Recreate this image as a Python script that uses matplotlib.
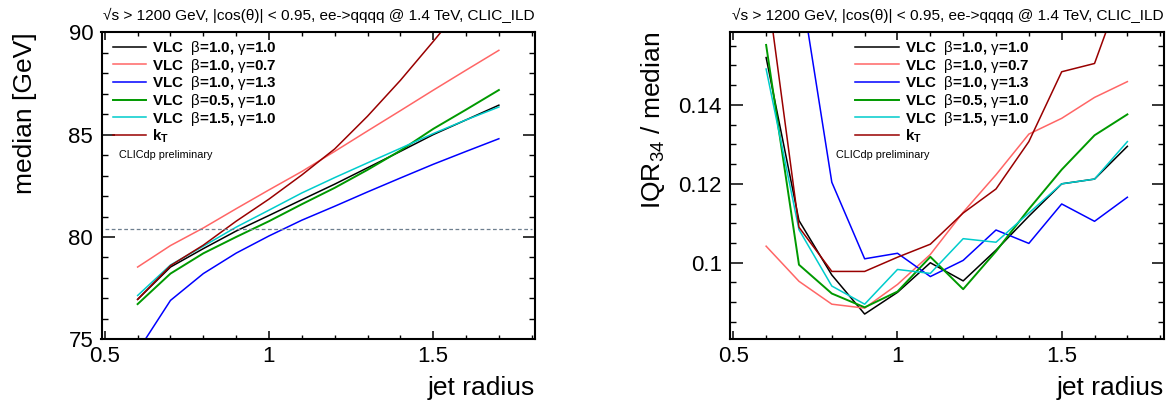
import numpy as np
import matplotlib
matplotlib.use("Agg")
import matplotlib.pyplot as plt
from matplotlib.ticker import MultipleLocator, FormatStrFormatter

plt.rcParams['font.family'] = ['Liberation Sans', 'DejaVu Sans']
plt.rcParams['mathtext.fontset'] = 'custom'
plt.rcParams['mathtext.rm'] = 'Liberation Sans'
plt.rcParams['mathtext.it'] = 'Liberation Sans'
plt.rcParams['mathtext.sf'] = 'Liberation Sans'
plt.rcParams['mathtext.bf'] = 'Liberation Sans:bold'

# jet radius values
radius = [0.6, 0.7, 0.8, 0.9, 1.0, 1.1, 1.2, 1.3, 1.4, 1.5, 1.6, 1.7]

labels = [r"VLC  $\beta$=1.0, $\gamma$=1.0",
          r"VLC  $\beta$=1.0, $\gamma$=0.7",
          r"VLC  $\beta$=1.0, $\gamma$=1.3",
          r"VLC  $\beta$=0.5, $\gamma$=1.0",
          r"VLC  $\beta$=1.5, $\gamma$=1.0",
          r"$\mathbf{k_T}$"]
colors = ['#000000', '#ff6666', '#0000ff', '#009900', '#00cccc', '#990000']
widths = [1.1, 1.1, 1.1, 1.4, 1.1, 1.1]

# median [GeV]
median_b10_g10 = [76.95, 78.53, 79.43, 80.29, 81.05, 81.82, 82.58, 83.38, 84.18, 85.00, 85.72, 86.44]
median_b10_g07 = [78.53, 79.58, 80.44, 81.38, 82.30, 83.20, 84.18, 85.18, 86.17, 87.17, 88.15, 89.12]
median_b10_g13 = [74.42, 76.90, 78.21, 79.21, 80.05, 80.82, 81.50, 82.20, 82.88, 83.55, 84.18, 84.80]
median_b05_g10 = [76.72, 78.21, 79.20, 80.00, 80.77, 81.60, 82.40, 83.28, 84.22, 85.28, 86.22, 87.18]
median_b15_g10 = [77.14, 78.63, 79.55, 80.48, 81.31, 82.15, 82.90, 83.62, 84.33, 85.05, 85.72, 86.35]
median_kt = [76.95, 78.60, 79.60, 80.77, 81.85, 83.03, 84.30, 85.90, 87.65, 89.55, 91.50, 93.60]

# IQR34 / median
iqr_b10_g10 = [0.1520, 0.1107, 0.0969, 0.0870, 0.0925, 0.1000, 0.0954, 0.1032, 0.1118, 0.1200, 0.1212, 0.1295]
iqr_b10_g07 = [0.1042, 0.0953, 0.0895, 0.0885, 0.0945, 0.1021, 0.1128, 0.1223, 0.1326, 0.1366, 0.1419, 0.1459]
iqr_b10_g13 = [0.1900, 0.1732, 0.1204, 0.1010, 0.1024, 0.0965, 0.1006, 0.1083, 0.1049, 0.1149, 0.1105, 0.1166]
iqr_b05_g10 = [0.1552, 0.0995, 0.0922, 0.0887, 0.0927, 0.1015, 0.0933, 0.1029, 0.1136, 0.1236, 0.1323, 0.1376]
iqr_b15_g10 = [0.1491, 0.1084, 0.0941, 0.0895, 0.0983, 0.0973, 0.1061, 0.1052, 0.1126, 0.1200, 0.1212, 0.1307]
iqr_kt = [0.1716, 0.1090, 0.0978, 0.0978, 0.1014, 0.1047, 0.1126, 0.1187, 0.1307, 0.1484, 0.1505, 0.1734]

w_mass = 80.385

medians = [median_b10_g10, median_b10_g07, median_b10_g13, median_b05_g10, median_b15_g10, median_kt]
iqrs = [iqr_b10_g10, iqr_b10_g07, iqr_b10_g13, iqr_b05_g10, iqr_b15_g10, iqr_kt]

title = "√s > 1200 GeV, |cos(θ)| < 0.95, ee->qqqq @ 1.4 TeV, CLIC_ILD"

W, H = 1168, 401
fig = plt.figure(figsize=(W / 100, H / 100), dpi=100)
ax1 = fig.add_axes([101.5 / W, 1 - 339.3 / H, 433.5 / W, 307 / H])
ax2 = fig.add_axes([730 / W, 1 - 339.3 / H, 433.5 / W, 307 / H])


def style(ax):
    ax.set_xlim(0.49, 1.81)
    ax.xaxis.set_major_locator(MultipleLocator(0.5))
    ax.xaxis.set_minor_locator(MultipleLocator(0.1))
    ax.xaxis.set_major_formatter(FormatStrFormatter('%g'))
    ax.yaxis.set_major_formatter(FormatStrFormatter('%g'))
    ax.tick_params(which='both', direction='in', top=True, right=True, labelsize=16)
    ax.tick_params(axis='x', which='major', length=5.5, width=1.1, pad=5)
    ax.tick_params(axis='x', which='minor', length=2.6, width=1.0)
    ax.tick_params(axis='y', which='major', length=9, width=1.1, pad=6)
    ax.tick_params(axis='y', which='minor', length=4.5, width=1.0)
    for s in ax.spines.values():
        s.set_linewidth(1.5)
    ax.text(1.0, 1 + 16.6 / 307, title, transform=ax.transAxes,
            ha='right', va='center', fontsize=11.1)


def legend(ax, x, hl):
    ax.legend(loc='upper left', bbox_to_anchor=(x, 0.978), frameon=False,
              prop={'weight': 'bold', 'size': 10.9}, handlelength=hl,
              handletextpad=0.42, labelspacing=-0.025, borderpad=0, borderaxespad=0)


# left: median
for y, lab, c, lw in zip(medians, labels, colors, widths):
    ax1.plot(radius, y, color=c, lw=lw, label=lab)
ax1.hlines(w_mass, 0.5, 1.8, colors='#6e7f8f', linestyles=(0, (3, 2)), lw=0.9)
ax1.set_ylim(75, 90)
ax1.yaxis.set_major_locator(MultipleLocator(5))
ax1.yaxis.set_minor_locator(MultipleLocator(1))
style(ax1)
legend(ax1, 0.026, 2.2)
ax1.text(0.0404, 0.600, "CLICdp preliminary", transform=ax1.transAxes,
         fontsize=7.8, va='center', ha='left')

# right: IQR34 / median
for y, lab, c, lw in zip(iqrs, labels, colors, widths):
    ax2.plot(radius, y, color=c, lw=lw, label=lab)
ax2.set_ylim(0.0806, 0.1584)
ax2.yaxis.set_major_locator(MultipleLocator(0.02))
ax2.yaxis.set_minor_locator(MultipleLocator(0.005))
style(ax2)
legend(ax2, 0.2884, 2.9)
ax2.text(0.2445, 0.600, "CLICdp preliminary", transform=ax2.transAxes,
         fontsize=7.8, va='center', ha='left')

# axis titles
fig.text(25.5 / W, 1 - 32.3 / H, "median [GeV]", rotation=90, ha='center', va='top', fontsize=19)
fig.text(653 / W, 1 - 32.3 / H, r"IQR$_{34}$ / median", rotation=90, ha='center', va='top', fontsize=19)
fig.text(535 / W, 1 - 387.5 / H, "jet radius", ha='right', va='center', fontsize=19)
fig.text(1163.5 / W, 1 - 387.5 / H, "jet radius", ha='right', va='center', fontsize=19)

fig.savefig("out.png", dpi=100)
